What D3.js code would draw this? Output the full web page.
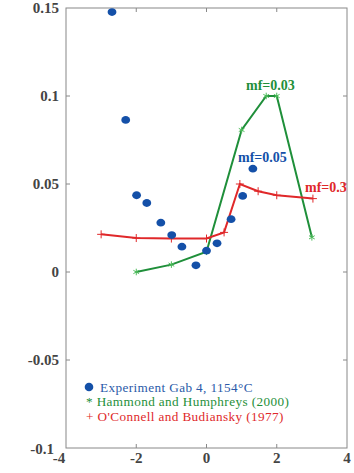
<!DOCTYPE html>
<html>
<head>
<meta charset="utf-8">
<script src="https://cdn.jsdelivr.net/npm/d3@7"></script>
<style>
body { margin: 0; background: #fff; }
</style>
</head>
<body>
<div id="chart"></div>
<script>
var width = 354;
var height = 473;
var serif = "'Liberation Serif', 'Times New Roman', serif";

// experiment points (blue dots)
var expX = [-2.69, -2.30, -1.99, -1.70, -1.30, -0.99, -0.70, -0.30, 0.0, 0.30, 0.70, 1.03, 1.32];
var expY = [0.1477, 0.0864, 0.0436, 0.0392, 0.028, 0.021, 0.0144, 0.0038, 0.0121, 0.0163, 0.030, 0.0432, 0.0587];

// Hammond and Humphreys (green)
var hamX = [-2, -1, 0, 1, 1.7, 2, 3];
var hamY = [0, 0.0042, 0.0115, 0.0807, 0.1, 0.1, 0.0197];

// O'Connell and Budiansky (red)
var ocbX = [-3, -2, -1, 0, 0.5, 0.95, 1.47, 2, 3.03];
var ocbY = [0.0214, 0.0193, 0.019, 0.019, 0.0225, 0.05, 0.0459, 0.0436, 0.0417];

var xTicks = [-4, -2, 0, 2, 4];
var yTicks = [-0.1, -0.05, 0, 0.05, 0.1, 0.15];
var xTickLabels = ["-4", "-2", "0", "2", "4"];
var yTickLabels = ["-0.1", "-0.05", "0", "0.05", "0.1", "0.15"];

var blue = "#1450a8", green = "#1f8f3a", red = "#e0282a";

var svg = d3.select("#chart")
  .append("svg")
  .attr("width", width)
  .attr("height", height)
  .style("font-family", serif);

var x = d3.scaleLinear().domain([-4, 4]).range([66, 347]);
var y = d3.scaleLinear().domain([-0.1, 0.15]).range([448, 8]);

// frame
svg.append("rect")
  .attr("x", x(-4)).attr("y", y(0.15))
  .attr("width", x(4) - x(-4)).attr("height", y(-0.1) - y(0.15))
  .attr("fill", "none").attr("stroke", "#888").attr("stroke-width", 1);

// inward ticks on all sides
var tickLen = 4;
var tg = svg.append("g").attr("stroke", "#888");
xTicks.slice(1, -1).forEach(function(t) {
  tg.append("line").attr("x1", x(t)).attr("x2", x(t)).attr("y1", y(-0.1)).attr("y2", y(-0.1) - tickLen);
  tg.append("line").attr("x1", x(t)).attr("x2", x(t)).attr("y1", y(0.15)).attr("y2", y(0.15) + tickLen);
});
yTicks.slice(1, -1).forEach(function(t) {
  tg.append("line").attr("x1", x(-4)).attr("x2", x(-4) + tickLen).attr("y1", y(t)).attr("y2", y(t));
  tg.append("line").attr("x1", x(4)).attr("x2", x(4) - tickLen).attr("y1", y(t)).attr("y2", y(t));
});

// tick labels
svg.selectAll(".ylab").data(yTicks).enter().append("text")
  .attr("x", function(d, i) { return i === 0 ? 54 : 59; })
  .attr("y", function(d, i) { return y(d) + (i === 0 ? 6 : 5); })
  .attr("text-anchor", "end").attr("font-size", 15).attr("font-weight", "bold").attr("fill", "#444")
  .text(function(d, i) { return yTickLabels[i]; });
svg.selectAll(".xlab").data(xTicks).enter().append("text")
  .attr("x", function(d, i) { return x(d) - (i === 0 ? 7 : 0); })
  .attr("y", 463)
  .attr("text-anchor", "middle").attr("font-size", 15).attr("font-weight", "bold").attr("fill", "#444")
  .text(function(d, i) { return xTickLabels[i]; });

var line = d3.line().x(function(d) { return x(d[0]); }).y(function(d) { return y(d[1]); });

// green line
var ham = d3.zip(hamX, hamY);
svg.append("path").datum(ham).attr("d", line)
  .attr("fill", "none").attr("stroke", green).attr("stroke-width", 2);
svg.append("g").selectAll("path").data(ham).enter().append("path")
  .attr("transform", function(d) { return "translate(" + x(d[0]) + "," + y(d[1]) + ")"; })
  .attr("d", d3.symbol(d3.symbolAsterisk, 30)())
  .attr("fill", "none").attr("stroke", "#4cbb5a").attr("stroke-width", 1);

// red line
var ocb = d3.zip(ocbX, ocbY);
svg.append("path").datum(ocb).attr("d", line)
  .attr("fill", "none").attr("stroke", red).attr("stroke-width", 2);
svg.append("g").selectAll("path").data(ocb).enter().append("path")
  .attr("transform", function(d) { return "translate(" + x(d[0]) + "," + y(d[1]) + ")"; })
  .attr("d", "M-4,0H4M0,-4V4")
  .attr("fill", "none").attr("stroke", red).attr("stroke-width", 1);

// blue dots
var exp = d3.zip(expX, expY);
svg.append("g").selectAll("ellipse").data(exp).enter().append("ellipse")
  .attr("cx", function(d) { return x(d[0]); })
  .attr("cy", function(d) { return y(d[1]); })
  .attr("rx", 4.4).attr("ry", 3.9)
  .attr("fill", blue);

// annotations
svg.append("text").attr("x", 246).attr("y", 90)
  .attr("font-size", 14).attr("font-weight", "bold").attr("fill", green).text("mf=0.03");
svg.append("text").attr("x", 238).attr("y", 162)
  .attr("font-size", 14).attr("font-weight", "bold").attr("fill", blue).text("mf=0.05");
svg.append("text").attr("x", 305).attr("y", 192)
  .attr("font-size", 14).attr("font-weight", "bold").attr("fill", red).text("mf=0.3");

// legend
svg.append("circle").attr("cx", 89).attr("cy", 387).attr("r", 4.3).attr("fill", blue);
var lg = svg.append("g").attr("font-size", 13.2).attr("letter-spacing", 0.4);
lg.append("text").attr("x", 100).attr("y", 391.5).attr("fill", "#2a5aa8")
  .text("Experiment Gab 4, 1154°C");
lg.append("text").attr("x", 86).attr("y", 406).attr("fill", green)
  .text("* Hammond and Humphreys (2000)");
lg.append("text").attr("x", 86).attr("y", 420.5).attr("fill", red)
  .text("+ O'Connell and Budiansky (1977)");
</script>
</body>
</html>
